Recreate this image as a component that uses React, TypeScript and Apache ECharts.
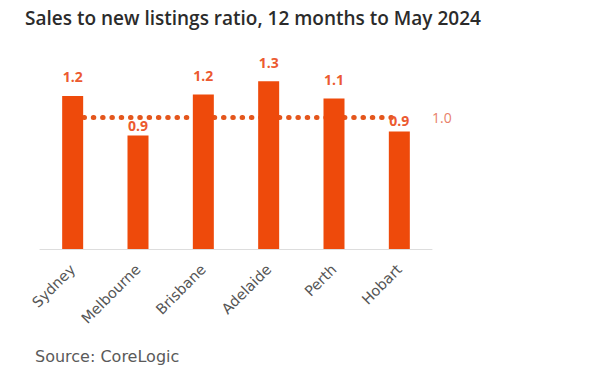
import React, { useEffect, useRef } from "react";
import * as echarts from "echarts";

const categories = ["Sydney", "Melbourne", "Brisbane", "Adelaide", "Perth", "Hobart"];
const ratios = [1.16, 0.86, 1.17, 1.27, 1.14, 0.89];
const valueLabels = ["1.2", "0.9", "1.2", "1.3", "1.1", "0.9"];
const benchmark = 1.0;
const benchmarkLabel = "1.0";
const titleText = "Sales to new listings ratio, 12 months to May 2024";
const sourceText = "Source: CoreLogic";

const FONT = "'Open Sans', 'Noto Sans', sans-serif";
const WIDE = "'DejaVu Sans', 'Open Sans', sans-serif";

export default function App() {
  const ref = useRef<HTMLDivElement>(null);
  useEffect(() => {
    if (!ref.current) return;
    const chart = echarts.init(ref.current, null, { renderer: "svg" });
    const labelDist = [12, 3, 12, 12, 12, 4];
    chart.setOption({
      animation: false,
      backgroundColor: "#ffffff",
      title: {
        text: titleText,
        left: 20,
        top: 3,
        textStyle: { fontFamily: FONT, fontSize: 19, fontWeight: 600, color: "#2b2b2b" },
      },
      graphic: [
        {
          type: "text",
          left: 35,
          top: 348,
          style: { text: sourceText, font: `16px ${WIDE}`, fill: "#5a5a5a" },
        },
      ],
      grid: { left: 40, right: 168, top: 51, bottom: 129 },
      xAxis: {
        type: "category",
        data: categories,
        axisLine: { lineStyle: { color: "#dddddd", width: 1 } },
        axisTick: { show: false },
        axisLabel: {
          rotate: 45,
          interval: 0,
          margin: 18,
          fontFamily: WIDE,
          fontSize: 14.5,
          color: "#555555",
        },
      },
      yAxis: {
        type: "value",
        min: 0,
        max: 1.5,
        show: false,
        splitLine: { show: false },
      },
      series: [
        {
          type: "bar",
          barWidth: 21,
          itemStyle: { color: "#EE4A0B" },
          data: ratios.map((v, i) => ({
            value: v,
            label: {
              show: true,
              position: "top",
              distance: labelDist[i],
              formatter: valueLabels[i],
              fontFamily: FONT,
              fontSize: 14,
              fontWeight: 700,
              color: "#EC5A30",
            },
          })),
          markLine: {
            silent: true,
            symbol: "none",
            z: 1,
            lineStyle: { color: "#E4561C", width: 5, type: [0.5, 8.8], cap: "round" },
            label: {
              show: true,
              position: "end",
              distance: 38,
              formatter: benchmarkLabel,
              fontFamily: FONT,
              fontSize: 14,
              color: "#E8806A",
            },
            data: [
              [
                { xAxis: 0, yAxis: benchmark, x: 84 },
                { xAxis: 5, yAxis: benchmark, x: 394 },
              ],
            ],
          },
        },
      ],
    });
    return () => chart.dispose();
  }, []);
  return (
    <div
      ref={ref}
      style={{ position: "fixed", left: 0, top: 0, width: 600, height: 378 }}
    />
  );
}
